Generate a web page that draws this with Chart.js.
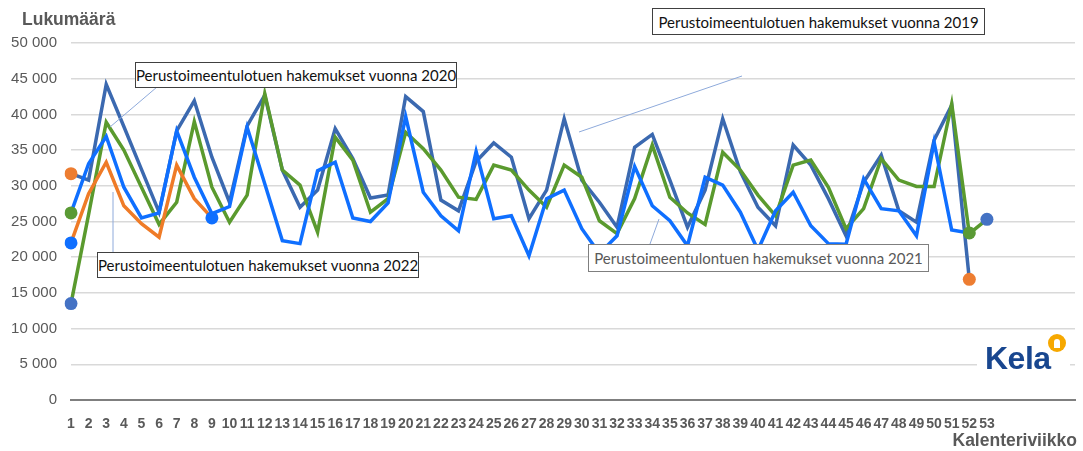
<!DOCTYPE html>
<html lang="fi">
<head>
<meta charset="utf-8">
<script src="https://cdn.jsdelivr.net/npm/chart.js@4.4.1/dist/chart.umd.min.js"></script>
<style>
    body { margin: 0; background: #fff; }
    #wrap { position: relative; width: 1083px; height: 451px; font-family: Arial, "Liberation Sans", sans-serif; }
    .axis-title { position: absolute; font-weight: bold; font-size: 17.5px; color: #595959; }
    .note {
        position: absolute; box-sizing: border-box; background: #fff;
        border: 1px solid #404040; color: #111;
        font-family: Lato, "Open Sans", sans-serif; font-size: 15px;
        display: flex; align-items: center; justify-content: center; white-space: nowrap;
    }
    .note.grey { border-color: #7f7f7f; color: #595959; }
    #logo { position: absolute; left: 977px; top: 330px; width: 93px; height: 52px; background: #fff; }
    #logo span { position: absolute; left: 8px; top: 10px; font: bold 32px Arial, "Liberation Sans", sans-serif; color: #18468f; letter-spacing: -0.5px; }
    #logo i { position: absolute; left: 71px; top: 4px; width: 18px; height: 18px; border-radius: 50%; background: #f6a800; }
    #logo i::after { content: ""; position: absolute; left: 6px; top: 5px; width: 6px; height: 9px; border-radius: 3px 3px 0 0; background: #fff; }
</style>
</head>
<body>
<div id="wrap">
    <canvas id="hakemusChart"></canvas>
    <div class="axis-title" style="left:22px;top:9px;">Lukumäärä</div>
    <div class="axis-title" style="right:6px;top:430px;">Kalenteriviikko</div>
    <div class="note" style="left:135px;top:62px;width:322px;height:26px;">Perustoimeentulotuen hakemukset vuonna 2020</div>
    <div class="note" style="left:97px;top:252px;width:322px;height:26px;">Perustoimeentulotuen hakemukset vuonna 2022</div>
    <div class="note" style="left:652px;top:8px;width:333px;height:27px;">Perustoimeentulotuen hakemukset vuonna 2019</div>
    <div class="note grey" style="left:588px;top:244px;width:341px;height:28px;">Perustoimeentulontuen hakemukset vuonna 2021</div>
    <div id="logo"><span>Kela</span><i></i></div>
</div>
<script>
// viikot 1-53, akseli jatkuu tyhjänä oikealle
const weeks = [1, 2, 3, 4, 5, 6, 7, 8, 9, 10, 11, 12, 13, 14, 15, 16, 17, 18, 19, 20,
    21, 22, 23, 24, 25, 26, 27, 28, 29, 30, 31, 32, 33, 34, 35, 36, 37, 38, 39, 40,
    41, 42, 43, 44, 45, 46, 47, 48, 49, 50, 51, 52, 53, '', '', '', '', ''];

const yTicks = [0, 5000, 10000, 15000, 20000, 25000, 30000, 35000, 40000, 45000, 50000];

const data2019 = [31700, 30800, 44200, 38300, 32300, 26300, 37700, 41900, 34000, 27700,
    38400, 42700, 32200, 27000, 29400, 38000, 33800, 28300, 28700, 42500,
    40400, 28000, 26500, 33400, 36000, 34000, 25400, 29400, 39400, 30800,
    27700, 24200, 35400, 37200, 30800, 24200, 29400, 39400, 32000, 27000,
    24400, 35700, 32900, 28200, 23000, 30500, 34300, 26500, 24900, 36400,
    41300, 16900];

const data2020 = [13500, 26000, 38900, 35000, 29800, 24600, 27700, 39000, 29800, 24900,
    28700, 42900, 32200, 30100, 23500, 36800, 33600, 26300, 28200, 37500,
    35200, 32200, 28400, 28100, 32900, 32200, 29400, 27000, 32900, 31200,
    25100, 23300, 28200, 35700, 28400, 26200, 24600, 34700, 32200, 28700,
    25800, 32900, 33600, 29800, 24000, 26800, 33800, 30800, 29900, 29900,
    41500, 23300, 25300];

const data2021 = [26200, 33100, 36900, 29800, 25500, 26200, 37700, 31200, 26100, 27100,
    38200, 30300, 22300, 21900, 32100, 33300, 25500, 25000, 27600, 39700,
    29100, 25800, 23700, 34800, 25400, 25800, 20200, 28200, 29400, 24000,
    20500, 23000, 32700, 27200, 25100, 21600, 31200, 30100, 26300, 21000,
    26500, 29100, 24400, 21900, 21800, 31000, 26800, 26500, 23000, 36100,
    23800, 23400];

const data2022 = [22000, 28900, 33300, 27200, 24700, 22800, 32900, 28200, 25500];

// selitelaatikoiden viivat (pikseleinä)
const leaders = [
    [157, 87, 110, 127],
    [113, 192, 113, 252],
    [742, 76, 579, 132],
    [650, 244, 659, 219]
];

function endDot(ctx) {
    const last = ctx.dataset.data.length - 1;
    return (ctx.dataIndex === 0 || ctx.dataIndex === last) ? 6.5 : 0;
}

function series(label, values, color, dotColor, order) {
    return {
        label: label,
        data: values,
        borderColor: color,
        backgroundColor: dotColor,
        pointBackgroundColor: dotColor,
        pointBorderWidth: 0,
        pointRadius: endDot,
        pointHoverRadius: endDot,
        borderWidth: 3.5,
        tension: 0,
        fill: false,
        order: order
    };
}

const leaderPlugin = {
    id: 'leaders',
    afterDatasetsDraw(chart) {
        const c = chart.ctx;
        c.save();
        c.strokeStyle = '#8eaadb';
        c.lineWidth = 1;
        leaders.forEach(l => {
            c.beginPath();
            c.moveTo(l[0], l[1]);
            c.lineTo(l[2], l[3]);
            c.stroke();
        });
        c.restore();
    }
};

document.addEventListener('DOMContentLoaded', () => {
    const ctx = document.getElementById('hakemusChart').getContext('2d');

    new Chart(ctx, {
        type: 'line',
        data: {
            labels: weeks,
            datasets: [
                series('2021', data2021, '#0f6fff', '#5a9a35', 1),
                series('2022', data2022, '#ef7b27', '#0f6fff', 2),
                series('2020', data2020, '#5a9a2e', '#4472c4', 3),
                series('2019', data2019, '#3b69b0', '#ed7d31', 4)
            ]
        },
        options: {
            responsive: true,
            maintainAspectRatio: false,
            animation: false,
            layout: {
                padding: { top: 43, right: 4, left: 0, bottom: 0 }
            },
            scales: {
                x: {
                    offset: false,
                    grid: { display: false },
                    border: { display: true, color: '#7f7f7f', width: 2 },
                    ticks: {
                        autoSkip: false,
                        maxRotation: 0,
                        minRotation: 0,
                        padding: 8,
                        color: '#595959',
                        font: { family: 'Arial, "Liberation Sans", sans-serif', size: 14, weight: 'bold' }
                    },
                    afterFit: scale => { scale.height = 51; }
                },
                y: {
                    min: yTicks[0],
                    max: yTicks[yTicks.length - 1],
                    afterBuildTicks: scale => { scale.ticks = yTicks.map(v => ({ value: v })); },
                    grid: { color: '#d9d9d9', lineWidth: 1.5, drawTicks: false },
                    border: { display: false },
                    ticks: {
                        padding: 14,
                        color: '#595959',
                        font: { family: 'Arial, "Liberation Sans", sans-serif', size: 15 },
                        callback: v => String(v).replace(/\B(?=(\d{3})+(?!\d))/g, ' ')
                    },
                    afterFit: scale => { scale.width = 71; }
                }
            },
            plugins: {
                legend: { display: false },
                tooltip: { enabled: false }
            }
        },
        plugins: [leaderPlugin]
    });
});
</script>
</body>
</html>
